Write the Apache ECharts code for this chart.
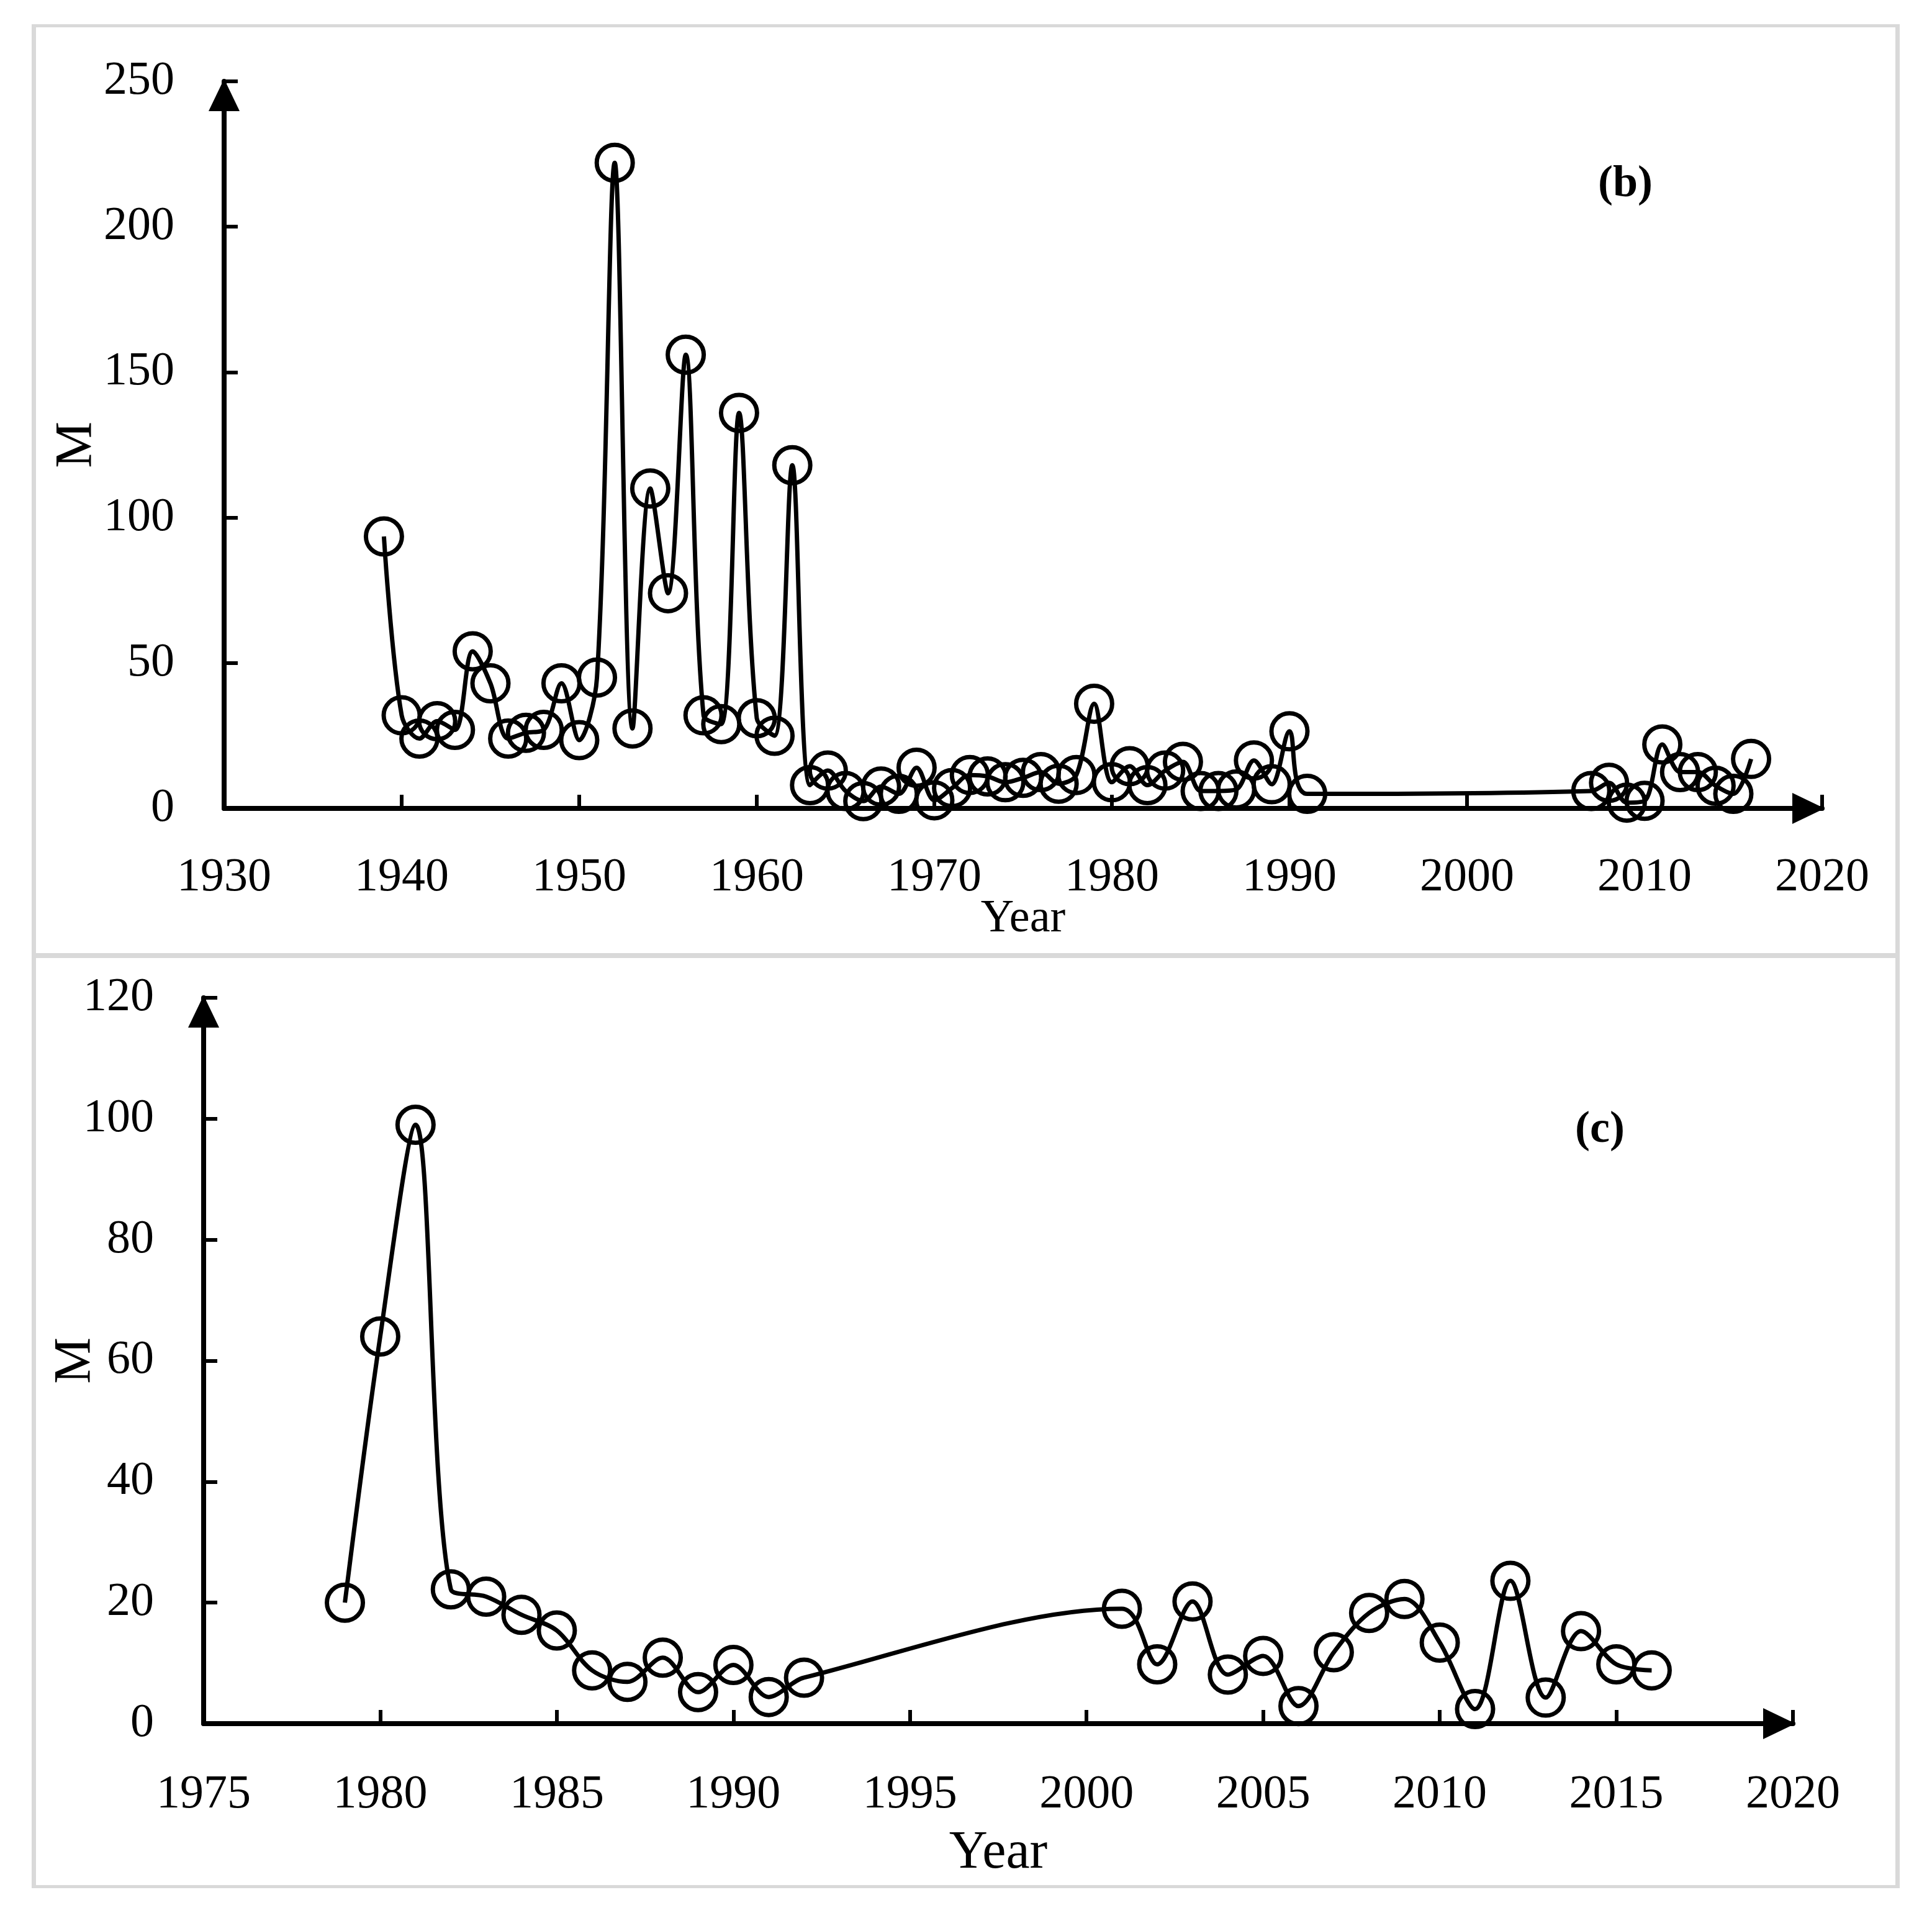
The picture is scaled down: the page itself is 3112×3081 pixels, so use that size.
<!DOCTYPE html>
<html>
<head>
<meta charset="utf-8">
<script src="https://cdn.jsdelivr.net/npm/echarts@6/dist/echarts.min.js"></script>
<style>
html,body{margin:0;padding:0;background:#fff;}
#chart{width:3112px;height:3081px;}
</style>
</head>
<body>
<div id="chart"></div>
<script>
// ---- Data ----
const yearsB = [1939,1940,1941,1942,1943,1944,1945,1946,1947,1948,1949,1950,1951,1952,1953,1954,1955,1956,1957,1958,1959,1960,1961,1962,1963,1964,1965,1966,1967,1968,1969,1970,1971,1972,1973,1974,1975,1976,1977,1978,1979,1980,1981,1982,1983,1984,1985,1986,1987,1988,1989,1990,1991,2007,2008,2009,2010,2011,2012,2013,2014,2015,2016];
const valuesB = [93.5,32,24,30,27,54,43,24,26,27,43,23.5,45,222,27.5,110,74,156,32,29,136,31,25,118,8,13,6,2.5,7.5,5,14,2.8,7,11.5,11,9,10.5,12.5,8.5,11.5,36,9,14.5,8,13,16,6,6,6.5,16.5,8.3,26.5,5,6,8.8,2,2.6,22,12.5,12.5,7.8,5,17];

const yearsC = [1979,1980,1981,1982,1983,1984,1985,1986,1987,1988,1989,1990,1991,1992,2001,2002,2003,2004,2005,2006,2007,2008,2009,2010,2011,2012,2013,2014,2015,2016];
const valuesC = [20,64,99,22.2,21,18,15.4,8.8,6.9,10.9,5.2,9.7,4.4,7.6,19,9.8,20.2,8.1,11.2,2.9,11.8,18.3,20.6,13.4,2.4,23.6,4.3,15.3,9.8,8.8];

const xTicksB = [1930,1940,1950,1960,1970,1980,1990,2000,2010,2020];
const yTicksB = [0,50,100,150,200,250];
const xTicksC = [1975,1980,1985,1990,1995,2000,2005,2010,2015,2020];
const yTicksC = [0,20,40,60,80,100,120];
const panelLabels = ['(b)', '(c)'];
const xName = 'Year';
const yName = 'M';

// ---- Styling ----
const FONT = '"Liberation Serif", "DejaVu Serif", serif';
const AXIS_W = 8;
const LABEL_SIZE = 76;

function zip(xs, ys){ return xs.map((x,i)=>[x, ys[i]]); }

function xAxisOpt(gridIndex, ticks, nameSize, nameGap, labelMargin){
  return {
    type:'value', gridIndex,
    min: ticks[0], max: ticks[ticks.length-1], interval: ticks[1]-ticks[0],
    name: xName, nameLocation:'middle', nameGap: nameGap, nameMoveOverlap:false,
    nameTextStyle:{fontFamily:FONT, fontSize:nameSize, color:'#000'},
    splitLine:{show:false},
    axisLine:{show:true, onZero:false, symbol:['none','triangle'], symbolSize:[50,52], symbolOffset:[0,-22],
      lineStyle:{color:'#000', width:AXIS_W}},
    axisTick:{show:true, inside:true, length:22, lineStyle:{color:'#000', width:6}},
    axisLabel:{show:true, margin:labelMargin, fontFamily:FONT, fontSize:LABEL_SIZE, color:'#000',
      showMinLabel:true, showMaxLabel:true, formatter: v => String(v)}
  };
}
function yAxisOpt(gridIndex, ticks, nameGap){
  return {
    type:'value', gridIndex,
    min: ticks[0], max: ticks[ticks.length-1], interval: ticks[1]-ticks[0],
    name: yName, nameLocation:'middle', nameGap: nameGap, nameRotate:90, nameMoveOverlap:false,
    nameTextStyle:{fontFamily:FONT, fontSize:84, color:'#000'},
    splitLine:{show:false},
    axisLine:{show:true, onZero:false, symbol:['none','triangle'], symbolSize:[50,52], symbolOffset:[0,-22],
      lineStyle:{color:'#000', width:AXIS_W}},
    axisTick:{show:true, inside:true, length:22, lineStyle:{color:'#000', width:6}},
    axisLabel:{show:true, margin:80, fontFamily:FONT, fontSize:LABEL_SIZE, color:'#000',
      showMinLabel:true, showMaxLabel:true, formatter: v => String(v)}
  };
}
function seriesOpt(idx, xs, ys){
  return {
    type:'line', xAxisIndex:idx, yAxisIndex:idx,
    data: zip(xs, ys),
    smooth:0.33,
    symbol:'circle', symbolSize:58,
    showAllSymbol:true,
    clip:false,
    lineStyle:{color:'#000', width:7},
    itemStyle:{color:'rgba(0,0,0,0)', borderColor:'#000', borderWidth:7},
    emphasis:{disabled:true},
    animation:false,
    z:3
  };
}

const chart = echarts.init(document.getElementById('chart'), null, {renderer:'canvas', width:3112, height:3081, devicePixelRatio:1});

const border = '#d9d9d9';
const option = {
  animation:false,
  backgroundColor:'#fff',
  grid:[
    {left:361, right:177, top:131, bottom:1779, containLabel:false, outerBoundsMode:'none'},
    {left:328, right:224, top:1607, bottom:305, containLabel:false, outerBoundsMode:'none'}
  ],
  xAxis:[ xAxisOpt(0, xTicksB, 74, 142, 74), xAxisOpt(1, xTicksC, 86, 166, 77) ],
  yAxis:[ yAxisOpt(0, yTicksB, 194), yAxisOpt(1, yTicksC, 163) ],
  series:[ seriesOpt(0, yearsB, valuesB), seriesOpt(1, yearsC, valuesC) ],
  graphic:[
    {type:'rect', shape:{x:51, y:39, width:3009, height:5}, style:{fill:border}, silent:true},
    {type:'rect', shape:{x:51, y:3036, width:3009, height:5}, style:{fill:border}, silent:true},
    {type:'rect', shape:{x:51, y:39, width:7, height:3002}, style:{fill:border}, silent:true},
    {type:'rect', shape:{x:3053, y:39, width:7, height:3002}, style:{fill:border}, silent:true},
    {type:'rect', shape:{x:51, y:1535, width:3009, height:8}, style:{fill:border}, silent:true},
    {type:'text', x:2618, y:297, style:{text:panelLabels[0], font:'bold 72px ' + FONT, fill:'#000', textAlign:'center', textVerticalAlign:'middle'}, silent:true},
    {type:'text', x:2577, y:1820, style:{text:panelLabels[1], font:'bold 72px ' + FONT, fill:'#000', textAlign:'center', textVerticalAlign:'middle'}, silent:true}
  ]
};
chart.setOption(option);
</script>
</body>
</html>
